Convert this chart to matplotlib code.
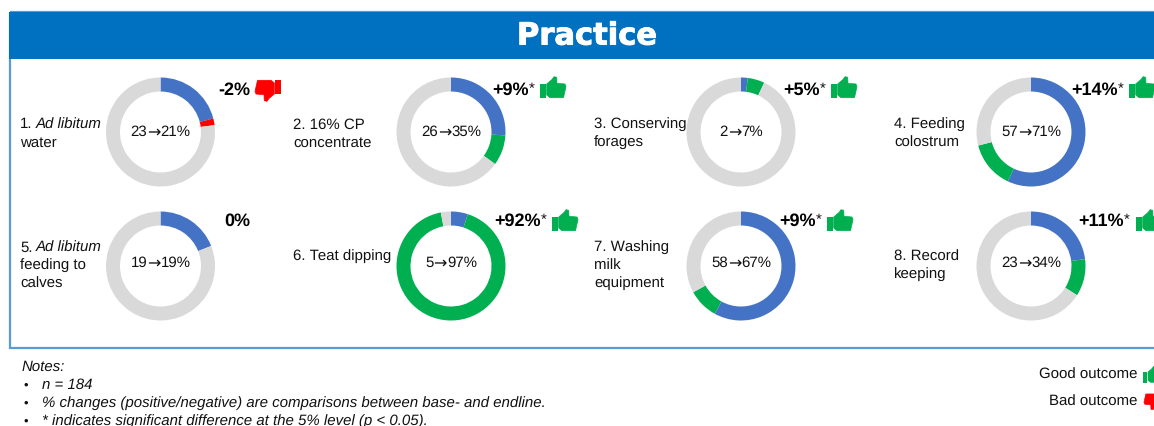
import matplotlib
matplotlib.use("Agg")
import matplotlib.pyplot as plt
import matplotlib.patheffects as pe
from matplotlib.patches import Polygon, Rectangle

plt.rcParams['font.family'] = ['Liberation Sans', 'DejaVu Sans']
plt.rcParams['text.hinting'] = 'none'
plt.rcParams['text.hinting_factor'] = 1

W, H = 1154, 426

# baseline share, change share, remainder (%)
base = [21, 26, 2, 57, 19, 5, 58, 23]
change = [2, 9, 5, 14, 0, 92, 9, 11]
rest = [77, 65, 93, 29, 81, 3, 33, 66]
change_colors = ["#FF0000", "#00B050", "#00B050", "#00B050", "#00B050", "#00B050", "#00B050", "#00B050"]
baseline = ["23", "26", "2", "57", "19", "5", "58", "23"]
endline = ["21%", "35%", "7%", "71%", "19%", "97%", "67%", "34%"]
change_labels = ["-2%", "+9%", "+5%", "+14%", "0%", "+92%", "+9%", "+11%"]
significant = [False, True, True, True, False, True, True, True]
icons = ["down", "up", "up", "up", None, "up", "up", "up"]
# "|" splits a plain number from the italic words after it
labels = [
    ["1.|Ad libitum", "water"],
    ["2. 16% CP", "concentrate"],
    ["3. Conserving", "forages"],
    ["4. Feeding", "colostrum"],
    ["5.|Ad libitum", "feeding to", "calves"],
    ["6. Teat dipping"],
    ["7. Washing", "milk", "equipment"],
    ["8. Record", "keeping"],
]
notes = [
    "n = 184",
    "% changes (positive/negative) are comparisons between base- and endline.",
    "* indicates significant difference at the 5% level (p < 0.05).",
]

# layout, in pixels of the picture
donut_x = [160.5, 451, 741, 1031, 160.5, 451, 741, 1031]
donut_y = [132, 132, 132, 132, 266, 266, 266, 266]
center_y = [132, 132, 132, 132, 263, 263, 263, 263]
radius = 54.5
label_x = [20, 293, 594, 894, 20, 293, 594, 894]
label_y = [124.5, 124.5, 124.5, 124.5, 247.5, 256.5, 247.5, 256.5]
change_x = [218, 492, 783, 1071, 224, 494, 779, 1078]
change_y = [90, 90, 90, 90, 221, 221, 221, 221]
icon_x = [255, 540, 831, 1129, 0, 552, 827, 1136]
icon_y = [79, 76, 76, 76, 0, 209, 209, 209]

THUMB = [(6.7, 8), (12, 3.5), (14, 0.7), (16.7, 1.3), (17, 7.3), (25, 8), (26, 10.7), (23.5, 21.7),
         (10, 21.7), (6.7, 19)]


def thumb(ax, x, y, kind, scale=1.0):
    if kind == "up":
        color = "#00B050"
        pts = THUMB
        cuff = (0, 8, 5.7, 14)
    else:
        color = "#FF0000"
        pts = [(26 - a, 23 - b) for a, b in THUMB]
        cuff = (20.3, 1, 5.7, 14)
    pts = [(x + a * scale, y + b * scale) for a, b in pts]
    ax.add_patch(Polygon(pts, closed=True, fc=color, ec=color, lw=0.5, joinstyle="round"))
    ax.add_patch(Rectangle((x + cuff[0] * scale, y + cuff[1] * scale), cuff[2] * scale, cuff[3] * scale,
                           fc=color, ec="none"))


fig = plt.figure(figsize=(W / 100, H / 100), dpi=100, facecolor="white")
ax = fig.add_axes([0, 0, 1, 1])
ax.set_xlim(0, W)
ax.set_ylim(H, 0)
ax.axis("off")

# frame and header
ax.add_patch(Rectangle((9.5, 12), W, 336, fc="none", ec="#5B9BD5", lw=1.6))
ax.add_patch(Rectangle((9, 12), W, 47, fc="#0070C0", ec="none"))
ax.text(588, 36, "Practice", color="white", fontsize=22, fontweight="bold", family="DejaVu Sans",
        ha="center", va="center", path_effects=[pe.withStroke(linewidth=0.7, foreground="white")])

renderer = fig.canvas.get_renderer()

for i in range(8):
    d = fig.add_axes([(donut_x[i] - radius) / W, 1 - (donut_y[i] + radius) / H, 2 * radius / W, 2 * radius / H])
    d.pie([base[i], change[i], rest[i]], colors=["#4472C4", change_colors[i], "#D9D9D9"], startangle=90,
          counterclock=False, radius=1.0, wedgeprops={"width": 0.257})
    d.set_xlim(-1, 1)
    d.set_ylim(-1, 1)

    # centre label: the arrow comes from DejaVu, Liberation's is too small
    left = ax.text(0, 0, baseline[i], fontsize=10.8, color="#111111", va="center", ha="left")
    arrow = ax.text(0, 0, "→", fontsize=11.5, family="DejaVu Sans", color="#111111", va="center", ha="left")
    right = ax.text(0, 0, endline[i], fontsize=10.8, color="#111111", va="center", ha="left")
    w1 = left.get_window_extent(renderer).width
    w2 = arrow.get_window_extent(renderer).width
    w3 = right.get_window_extent(renderer).width
    x0 = donut_x[i] - (w1 + w2 + w3) / 2
    left.set_position((x0, center_y[i]))
    arrow.set_position((x0 + w1, center_y[i]))
    right.set_position((x0 + w1 + w2, center_y[i]))

    for j, line in enumerate(labels[i]):
        y = label_y[i] + 18 * j
        parts = line.split("|")
        t = ax.text(label_x[i], y, parts[0], ha="left", va="center", fontsize=10.5, color="#111111")
        if len(parts) > 1:
            box = t.get_window_extent(renderer)
            ax.text(box.x1 + 3.5, y, parts[1], style="italic", ha="left", va="center", fontsize=10.5,
                    color="#111111")

    t = ax.text(change_x[i], change_y[i], change_labels[i], ha="left", va="center", fontsize=13,
                fontweight="bold", color="black")
    if significant[i]:
        box = t.get_window_extent(renderer)
        ax.text(box.x1 + 0.5, change_y[i] - 1, "*", ha="left", va="center", fontsize=11, color="#111111")
    if icons[i]:
        thumb(ax, icon_x[i], icon_y[i], icons[i])

# notes
ax.text(22, 367, "Notes:", style="italic", fontsize=10.5, ha="left", va="center", color="#111111")
for j, note in enumerate(notes):
    ax.text(23, 385 + 18 * j, "•", fontsize=9.5, ha="left", va="center", color="#111111")
    ax.text(42, 385 + 18 * j, note, style="italic", fontsize=10.5, ha="left", va="center", color="#111111")

# legend
ax.text(1137, 375, "Good outcome", fontsize=10.5, ha="right", va="center", color="#111111")
ax.text(1137, 402, "Bad outcome", fontsize=10.5, ha="right", va="center", color="#111111")
thumb(ax, 1143, 366, "up", 0.75)
thumb(ax, 1144, 393, "down", 0.75)

fig.savefig("out.png", dpi=100)
